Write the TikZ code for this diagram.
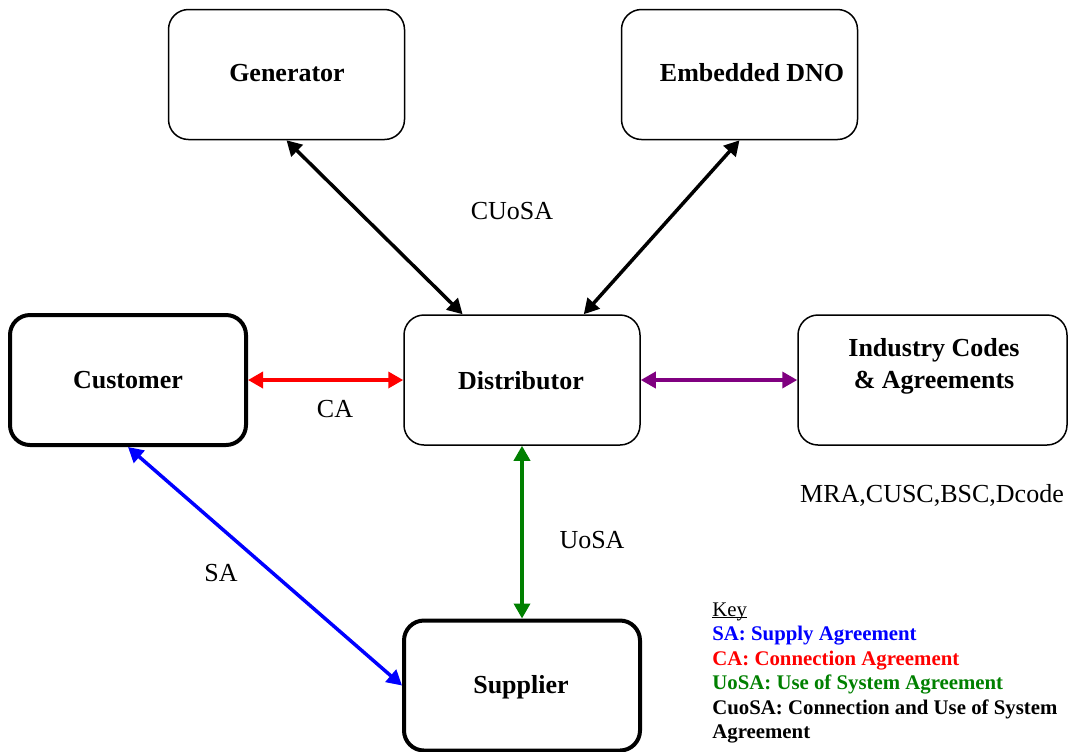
\documentclass[tikz,border=0pt]{standalone}
\usepackage{fontspec}
\setmainfont{Liberation Serif}
\usetikzlibrary{arrows.meta,calc}
\definecolor{kblue}{RGB}{0,0,255}
\definecolor{kred}{RGB}{255,0,0}
\definecolor{kgreen}{RGB}{0,128,0}
\definecolor{kpurple}{RGB}{128,0,128}
\newcommand{\keyuline}[1]{\setbox0\hbox{#1}\copy0\llap{\rule[-1.2pt]{\wd0}{0.5pt}}}
\begin{document}
\begin{tikzpicture}[x=0.5pt,y=-0.5pt,
  box/.style={draw=black,line width=0.75pt,rounded corners=10pt,minimum width=118pt,minimum height=65pt,inner sep=0pt,fill=white},
  thickbox/.style={box,line width=2pt},
  btxt/.style={inner sep=0pt,font=\fontsize{13}{16}\selectfont\bfseries,align=center},
  conn/.style={line width=1.75pt,{Triangle[length=7.5pt,width=8pt]}-{Triangle[length=7.5pt,width=8pt]}},
  lbl/.style={font=\fontsize{13}{15}\selectfont,inner sep=0pt}]
\useasboundingbox (0,0) rectangle (1069,751);
\node[box] (gen) at (286.5,74.5) {};
\node[btxt] (gentxt) at (287,73) {Generator};
\node[box] (dno) at (739.5,74.5) {};
\node[btxt] (dnotxt) at (752,73) {Embedded DNO};
\node[thickbox] (cust) at (128,380) {};
\node[btxt] (custtxt) at (128,380.5) {Customer};
\node[box] (dist) at (522,380) {};
\node[btxt] (disttxt) at (521,380.5) {Distributor};
\node[box,minimum width=134.5pt] (ind) at (932.5,380) {};
\node[btxt] (indtxt) at (934,366) {Industry Codes\\\& Agreements};
\node[thickbox] (sup) at (522,685.5) {};
\node[btxt] (suptxt) at (521,687.5) {Supplier};
\draw[conn,black] (gen.south) -- ($(dist.north west)!0.25!(dist.north east)$);
\draw[conn,black] (dno.south) -- ($(dist.north west)!0.76!(dist.north east)$);
\draw[conn,kred] (cust.east) -- (dist.west);
\draw[conn,kpurple] (dist.east) -- (ind.west);
\draw[conn,kgreen] (dist.south) -- (sup.north);
\draw[conn,kblue] (cust.south) -- (sup.west);
\node[lbl] (cuosa) at (512,211) {CUoSA};
\node[lbl] (ca) at (335,409) {CA};
\node[lbl] (uosa) at (592,540) {UoSA};
\node[lbl] (sa) at (221,573) {SA};
\node[lbl] (mra) at (932,495) {MRA,CUSC,BSC,Dcode};
\node[inner sep=0pt,anchor=north west,align=left,font=\fontsize{10.4}{12.25}\selectfont] (key) at (712,602) {\keyuline{Key}\\
\textcolor{kblue}{\bfseries SA: Supply Agreement}\\
\textcolor{kred}{\bfseries CA: Connection Agreement}\\
\textcolor{kgreen}{\bfseries UoSA: Use of System Agreement}\\
{\bfseries CuoSA: Connection and Use of System}\\
{\bfseries Agreement}};
\end{tikzpicture}
\end{document}
